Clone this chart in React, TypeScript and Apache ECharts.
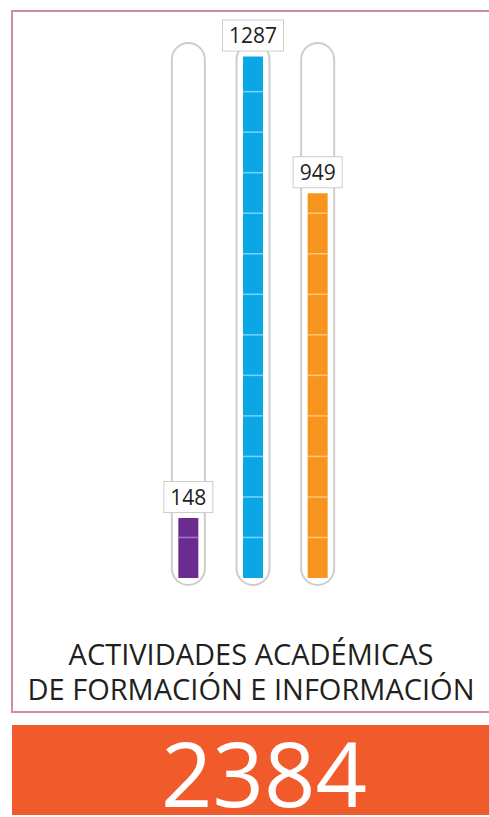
import React, { useEffect, useRef } from 'react';
import * as echarts from 'echarts';

const CATEGORIES = ['Serie 1', 'Serie 2', 'Serie 3'];
const VALUES = [148, 1287, 949];
const COLORS = ['#6b2c91', '#0ba7e5', '#f7941d'];
const LINE_COLORS = ['#a676cf', '#74d4fb', '#ffc777'];
const TITLE_LINES = ['ACTIVIDADES ACADÉMICAS', 'DE FORMACIÓN E INFORMACIÓN'];
const TOTAL = 2384;
const STEP = 100;
const TUBE_MAX = 1320;

export default function App() {
  const ref = useRef<HTMLDivElement>(null);
  useEffect(() => {
    const chart = echarts.init(ref.current!, null, { renderer: 'svg' });
    const option: any = {
      animation: false,
      grid: { left: 156, width: 194, top: 43, height: 535 },
      xAxis: { type: 'category', data: CATEGORIES, show: false },
      yAxis: { type: 'value', min: 0, max: TUBE_MAX, show: false },
      series: [
        {
          type: 'custom',
          z: 1,
          data: CATEGORIES.map((c, i) => [i, TUBE_MAX]),
          encode: { x: 0, y: 1 },
          renderItem: (params: any, api: any) => {
            const i = api.value(0);
            const top = api.coord([i, api.value(1)]);
            const base = api.coord([i, 0]);
            return {
              type: 'rect',
              shape: { x: top[0] - 16.5, y: top[1], width: 33, height: base[1] + 7 - top[1], r: 16.5 },
              style: { fill: '#ffffff', stroke: '#cdcdcd', lineWidth: 2 },
            };
          },
        },
        {
          type: 'bar',
          z: 2,
          barWidth: 20,
          data: VALUES.map((v, i) => ({ value: v, itemStyle: { color: COLORS[i] } })),
          label: {
            show: true,
            position: 'top',
            distance: 6,
            color: '#222222',
            fontFamily: 'Open Sans',
            fontSize: 21,
            lineHeight: 22,
            backgroundColor: '#ffffff',
            borderColor: '#cccccc',
            borderWidth: 1,
            padding: [4, 6],
          },
        },
        {
          type: 'custom',
          z: 3,
          data: VALUES.map((v, i) => [i, v]),
          encode: { x: 0, y: 1 },
          renderItem: (params: any, api: any) => {
            const i = api.value(0);
            const v = api.value(1);
            const cx = api.coord([i, 0])[0];
            const children: any[] = [];
            for (let k = 1; k * STEP < v; k++) {
              const y = api.coord([i, k * STEP])[1];
              children.push({
                type: 'line',
                shape: { x1: cx - 10, y1: y, x2: cx + 10, y2: y },
                style: { stroke: LINE_COLORS[params.dataIndex], lineWidth: 1.5 },
              });
            }
            return { type: 'group', children };
          },
        },
      ],
      graphic: [
        {
          type: 'polyline',
          shape: { points: [[489, 11], [12, 11], [12, 712], [489, 712]] },
          style: { fill: 'none', stroke: '#d08d98', lineWidth: 2 },
          z: 0,
        },
        {
          type: 'text',
          x: 251,
          y: 670.5,
          style: {
            text: TITLE_LINES.join('\n'),
            fill: '#231f20',
            fontFamily: 'Open Sans',
            fontSize: 29,
            lineHeight: 35,
            align: 'center',
            verticalAlign: 'middle',
          },
        },
        {
          type: 'rect',
          shape: { x: 12, y: 725, width: 477, height: 90 },
          style: { fill: '#f15a2b' },
        },
        {
          type: 'text',
          x: 264,
          y: 772,
          style: {
            text: String(TOTAL),
            fill: '#ffffff',
            fontFamily: 'Open Sans',
            fontSize: 90,
            lineHeight: 68,
            align: 'center',
            verticalAlign: 'middle',
          },
        },
      ],
    };
    chart.setOption(option);
    return () => chart.dispose();
  }, []);
  return <div ref={ref} style={{ position: 'absolute', left: 0, top: 0, width: 489, height: 817 }} />;
}
